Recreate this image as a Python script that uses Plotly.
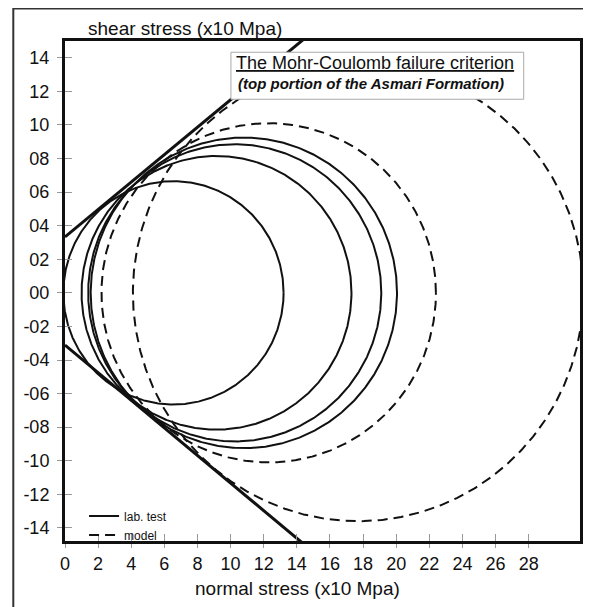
import numpy as np
import plotly.graph_objects as go

# ---- data (x10 MPa) ----
x_tick_vals = [0, 2, 4, 6, 8, 10, 12, 14, 16, 18, 20, 22, 24, 26, 28]
x_tick_text = ["0", "2", "4", "6", "8", "10", "12", "14", "16", "18", "20", "22", "24", "26", "28"]
y_tick_vals = [-14, -12, -10, -8, -6, -4, -2, 0, 2, 4, 6, 8, 10, 12, 14]
y_tick_text = ["-14", "-12", "-10", "-08", "-06", "-04", "-02", "00", "02", "04", "06", "08", "10", "12", "14"]

lab_centers = [6.55, 9.15, 10.25, 10.8]
lab_radii = [6.65, 8.15, 8.85, 9.25]
model_centers = [12.3, 17.7]
model_radii = [10.1, 13.6]

envelope_cohesion = [3.33, -3.11]
envelope_slope = [0.817, -0.822]

X_RANGE = [0, 31.1]
Y_RANGE = [-14.78, 15.0]

FONT = "Liberation Sans, Arial, sans-serif"
INK = "#111111"

fig = go.Figure()

theta = np.linspace(0, 2 * np.pi, 721)

# failure envelope lines
for c, s in zip(envelope_cohesion, envelope_slope):
    xs = np.array([0.0, 25.0])
    fig.add_trace(go.Scatter(x=xs, y=c + s * xs, mode="lines",
                             line=dict(color=INK, width=3),
                             showlegend=False, hoverinfo="skip"))

# lab test circles
for i, (c, r) in enumerate(zip(lab_centers, lab_radii)):
    fig.add_trace(go.Scatter(x=c + r * np.cos(theta), y=r * np.sin(theta), mode="lines",
                             line=dict(color=INK, width=2),
                             name="lab. test",
                             showlegend=(i == 0), hoverinfo="skip"))

# model circles
for i, (c, r) in enumerate(zip(model_centers, model_radii)):
    fig.add_trace(go.Scatter(x=c + r * np.cos(theta), y=r * np.sin(theta), mode="lines",
                             line=dict(color=INK, width=2, dash="10px,6px"),
                             name="model",
                             showlegend=(i == 0), hoverinfo="skip"))

fig.update_layout(
    width=583, height=599,
    margin=dict(l=57, r=8, t=33, b=66),
    paper_bgcolor="white", plot_bgcolor="white",
    font=dict(family=FONT, color=INK, size=18),
    xaxis=dict(range=X_RANGE, tickvals=x_tick_vals, ticktext=x_tick_text,
               showgrid=False, zeroline=False, showline=True, mirror=True,
               linecolor=INK, linewidth=3, ticks="outside", ticklen=4,
               tickcolor="#999999", tickwidth=1, tickfont=dict(size=18)),
    yaxis=dict(range=Y_RANGE, tickvals=y_tick_vals, ticktext=y_tick_text,
               showgrid=False, zeroline=False, showline=True, mirror=True,
               linecolor=INK, linewidth=3, ticks="outside", ticklen=5,
               ticklabelstandoff=4,
               tickcolor="#999999", tickwidth=1, tickfont=dict(size=18)),
    xaxis2=dict(range=X_RANGE, tickvals=x_tick_vals, overlaying="x", anchor="y",
                side="bottom", showticklabels=False, showgrid=False, zeroline=False,
                showline=False, ticks="inside", ticklen=7, tickcolor="#999999", tickwidth=1),
    yaxis2=dict(range=Y_RANGE, tickvals=y_tick_vals, overlaying="y", anchor="x",
                side="left", showticklabels=False, showgrid=False, zeroline=False,
                showline=False, ticks="inside", ticklen=7, tickcolor="#999999", tickwidth=1),
    showlegend=True,
    legend=dict(x=0.037, y=0.079, xanchor="left", yanchor="top",
                bgcolor="rgba(0,0,0,0)", font=dict(size=12, color=INK),
                tracegroupgap=0, itemwidth=30),
)

# invisible trace to activate overlay axes
fig.add_trace(go.Scatter(x=[None], y=[None], xaxis="x2", yaxis="y2",
                         showlegend=False, hoverinfo="skip"))

# title box
fig.add_shape(type="rect", xref="x", yref="y", x0=10.02, x1=27.7, y0=11.53, y1=14.33,
              fillcolor="white", line=dict(color="#aaaaaa", width=1), layer="above")
fig.add_annotation(x=18.72, y=13.67, xref="x", yref="y", showarrow=False,
                   xanchor="center", yanchor="middle",
                   text="<u>The Mohr-Coulomb failure criterion</u>",
                   font=dict(size=18, color=INK, family=FONT))
fig.add_annotation(x=18.5, y=12.48, xref="x", yref="y", showarrow=False,
                   xanchor="center", yanchor="middle",
                   text="<b><i>(top portion of the Asmari Formation)</i></b>",
                   font=dict(size=15, color=INK, family=FONT))

# axis titles
fig.add_annotation(x=0.2336, y=1.025, xref="paper", yref="paper", showarrow=False,
                   text="shear stress (x10 Mpa)", xanchor="center", yanchor="middle",
                   font=dict(size=19, color=INK, family=FONT))
fig.add_annotation(x=0.452, y=-0.094, xref="paper", yref="paper", showarrow=False,
                   text="normal stress (x10 Mpa)", xanchor="center", yanchor="middle",
                   font=dict(size=19, color=INK, family=FONT))

# outer frame (right and bottom edges run off the page)
fig.add_shape(type="rect", xref="paper", yref="paper", x0=-0.1004, x1=1.2,
              y0=-0.3, y1=1.065, line=dict(color="#333333", width=2), layer="above")

fig.write_html("out.html")
